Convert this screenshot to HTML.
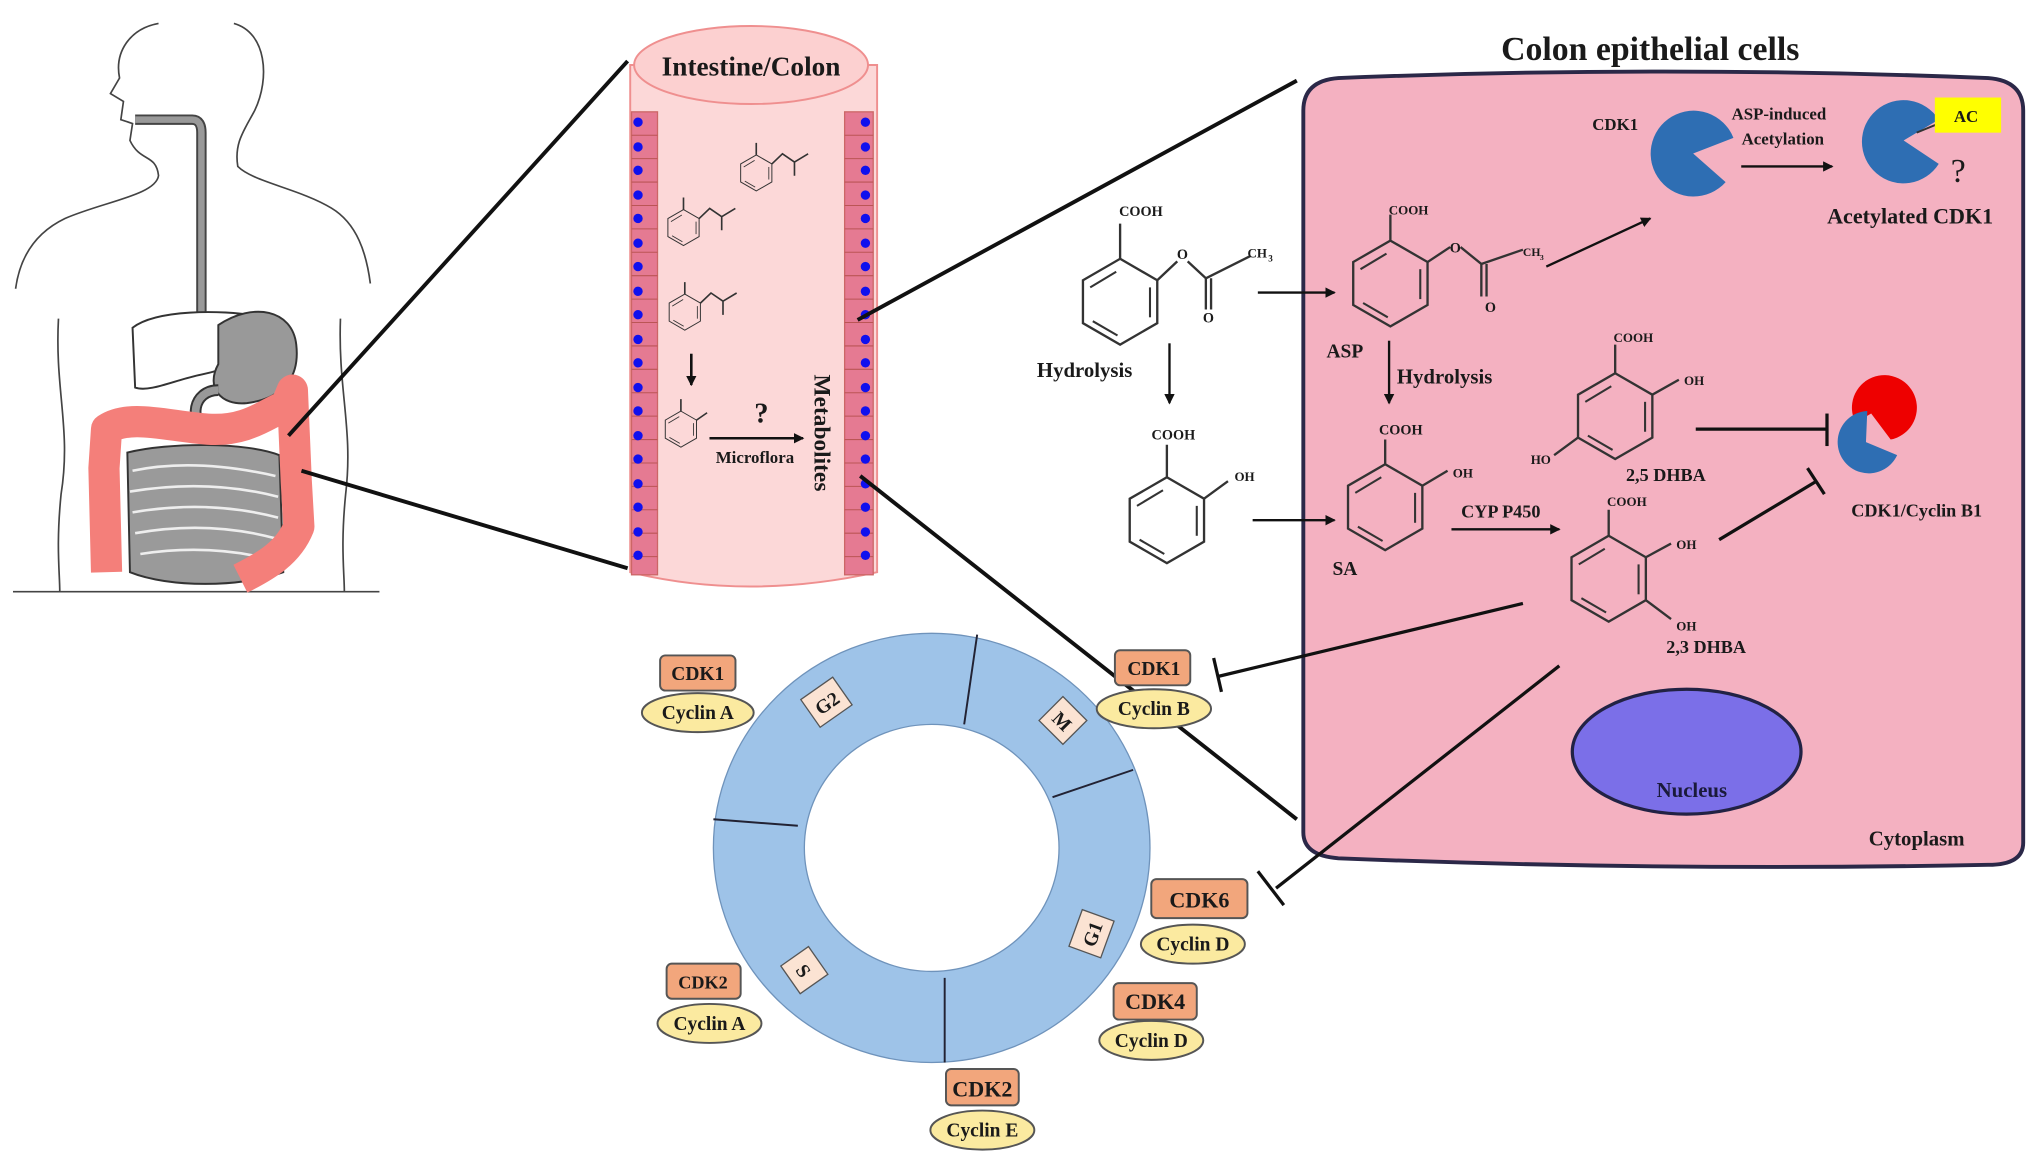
<!DOCTYPE html>
<html><head><meta charset="utf-8"><style>
html,body{margin:0;padding:0;background:#fff;}
svg{display:block;}
text{font-family:"Liberation Serif",serif;font-weight:bold;fill:#1a1a1a;}
</style></head><body>
<svg width="2031" height="1160" viewBox="0 0 1563 892" preserveAspectRatio="none" xmlns="http://www.w3.org/2000/svg">
<defs>
<g id="bz">
<polygon points="0,-33 28.6,-16.5 28.6,16.5 0,33 -28.6,16.5 -28.6,-16.5" fill="none" stroke="#333" stroke-width="1.8"/>
<line x1="-23" y1="-11" x2="-3" y2="-23" stroke="#333" stroke-width="1.6"/>
<line x1="23" y1="-11" x2="23" y2="12" stroke="#333" stroke-width="1.6"/>
<line x1="-21" y1="15" x2="-2" y2="26" stroke="#333" stroke-width="1.6"/>
</g>
<marker id="ah" markerWidth="8" markerHeight="8" refX="7" refY="4" orient="auto" markerUnits="userSpaceOnUse"><path d="M0,0 L8,4 L0,8 z" fill="#111"/></marker>
</defs>

<!-- Body -->
<g fill="none" stroke="#444" stroke-width="1.3">
<path d="M122,18 C100,22 88,40 92,60 L85,72 L95,78 L93,92 L102,95 L100,108 C108,125 120,118 122,135 C120,150 80,155 50,168 C25,180 15,200 12,222"/>
<path d="M180,18 C205,25 208,60 196,85 C188,100 180,110 183,128 C195,140 230,145 255,160 C275,172 282,195 285,218"/>
<path d="M45,245 C42,300 55,330 47,380 C43,420 46,440 46,455"/>
<path d="M262,245 C260,300 272,330 266,380 C262,420 265,440 265,455"/>
<line x1="10" y1="455" x2="292" y2="455"/>
</g>
<path d="M104,92 L148,92 C153,92 155,96 155,102 L155,240" fill="none" stroke="#444" stroke-width="8"/>
<path d="M104,92 L148,92 C153,92 155,96 155,102 L155,240" fill="none" stroke="#999" stroke-width="5"/>
<path d="M102,252 C120,238 170,238 198,243 L208,252 C200,272 180,283 155,288 C135,292 115,302 104,298 Z" fill="#fff" stroke="#333" stroke-width="1.5"/>
<path d="M168,250 C195,232 225,238 228,265 C232,300 205,308 190,310 C170,312 158,298 168,280 Z" fill="#999" stroke="#333" stroke-width="1.5"/>
<path d="M160,330 C145,325 148,300 168,300" fill="none" stroke="#333" stroke-width="9"/>
<path d="M160,330 C145,325 148,300 168,300" fill="none" stroke="#999" stroke-width="6"/>
<path d="M98,348 C130,340 190,340 215,350 L218,440 C185,452 130,452 100,440 Z" fill="#9a9a9a" stroke="#333" stroke-width="1.5"/>
<g fill="none" stroke="#eee" stroke-width="2">
<path d="M102,362 Q150,352 212,366 M100,378 Q160,368 214,382 M102,394 Q160,384 214,398 M104,410 Q160,400 212,414 M108,426 Q160,418 208,430"/>
</g>
<path d="M82,440 L80,360 L82,330 C100,318 130,328 160,330 C190,332 205,318 220,312 L225,300 L228,370 L230,405 C222,425 205,435 185,445" fill="none" stroke="#f47f7a" stroke-width="24" stroke-linejoin="round"/>

<!-- connectors from body -->
<g stroke="#111" stroke-width="3">
<line x1="222" y1="335" x2="483" y2="47"/>
<line x1="232" y1="362" x2="483" y2="437"/>
</g>

<!-- Tube -->
<path d="M485,50 L485,440 Q575,462 675,440 L675,50 Z" fill="#fcd8d8" stroke="#ef8f8f" stroke-width="1.5"/>
<ellipse cx="578" cy="50" rx="90" ry="30" fill="#fcd0d0" stroke="#ef8f8f" stroke-width="1.5"/>
<text x="578" y="58" font-size="21" text-anchor="middle">Intestine/Colon</text>
<rect x="486" y="86" width="20" height="356" fill="#e57a92" stroke="#c66" stroke-width="1"/>
<rect x="650" y="86" width="22" height="356" fill="#e57a92" stroke="#c66" stroke-width="1"/>
<g stroke="#b55" stroke-width="0.8">
<path d="M486,104h20M486,122h20M486,140h20M486,158h20M486,176h20M486,194h20M486,212h20M486,230h20M486,248h20M486,266h20M486,284h20M486,302h20M486,320h20M486,338h20M486,356h20M486,374h20M486,392h20M486,410h20M486,428h20"/>
<path d="M650,104h22M650,122h22M650,140h22M650,158h22M650,176h22M650,194h22M650,212h22M650,230h22M650,248h22M650,266h22M650,284h22M650,302h22M650,320h22M650,338h22M650,356h22M650,374h22M650,392h22M650,410h22M650,428h22"/>
</g>
<g fill="#1010ee">
<circle cx="491" cy="94" r="3.6"/><circle cx="491" cy="113" r="3.6"/><circle cx="491" cy="131" r="3.6"/><circle cx="491" cy="150" r="3.6"/><circle cx="491" cy="168" r="3.6"/><circle cx="491" cy="187" r="3.6"/><circle cx="491" cy="205" r="3.6"/><circle cx="491" cy="224" r="3.6"/><circle cx="491" cy="242" r="3.6"/><circle cx="491" cy="261" r="3.6"/><circle cx="491" cy="279" r="3.6"/><circle cx="491" cy="298" r="3.6"/><circle cx="491" cy="316" r="3.6"/><circle cx="491" cy="335" r="3.6"/><circle cx="491" cy="353" r="3.6"/><circle cx="491" cy="372" r="3.6"/><circle cx="491" cy="390" r="3.6"/><circle cx="491" cy="409" r="3.6"/><circle cx="491" cy="427" r="3.6"/>
<circle cx="666" cy="94" r="3.6"/><circle cx="666" cy="113" r="3.6"/><circle cx="666" cy="131" r="3.6"/><circle cx="666" cy="150" r="3.6"/><circle cx="666" cy="168" r="3.6"/><circle cx="666" cy="187" r="3.6"/><circle cx="666" cy="205" r="3.6"/><circle cx="666" cy="224" r="3.6"/><circle cx="666" cy="242" r="3.6"/><circle cx="666" cy="261" r="3.6"/><circle cx="666" cy="279" r="3.6"/><circle cx="666" cy="298" r="3.6"/><circle cx="666" cy="316" r="3.6"/><circle cx="666" cy="335" r="3.6"/><circle cx="666" cy="353" r="3.6"/><circle cx="666" cy="372" r="3.6"/><circle cx="666" cy="390" r="3.6"/><circle cx="666" cy="409" r="3.6"/><circle cx="666" cy="427" r="3.6"/>
</g>
<g transform="translate(582,133) scale(0.42)"><use href="#bz"/><path d="M0,-33 V-55 M28.6,-16.5 L48,-35 L70,-20 L70,5 M70,-20 L95,-35" fill="none" stroke="#333" stroke-width="3"/></g>
<g transform="translate(526,175) scale(0.42)"><use href="#bz"/><path d="M0,-33 V-55 M28.6,-16.5 L48,-35 L70,-20 L70,5 M70,-20 L95,-35" fill="none" stroke="#333" stroke-width="3"/></g>
<g transform="translate(527,240) scale(0.42)"><use href="#bz"/><path d="M0,-33 V-55 M28.6,-16.5 L48,-35 L70,-20 L70,5 M70,-20 L95,-35" fill="none" stroke="#333" stroke-width="3"/></g>
<line x1="532" y1="272" x2="532" y2="296" stroke="#111" stroke-width="2" marker-end="url(#ah)"/>
<g transform="translate(524,330) scale(0.42)"><use href="#bz"/><path d="M0,-33 V-55 M28.6,-16.5 L48,-30" fill="none" stroke="#333" stroke-width="3"/></g>
<text x="586" y="325" font-size="22" text-anchor="middle">?</text>
<line x1="546" y1="337" x2="618" y2="337" stroke="#111" stroke-width="2" marker-end="url(#ah)"/>
<text x="581" y="356" font-size="13" text-anchor="middle">Microflora</text>
<text transform="translate(627,288) rotate(90)" font-size="18">Metabolites</text>

<g stroke="#111" stroke-width="3">
<line x1="660" y1="246" x2="998" y2="62"/>
<line x1="662" y1="366" x2="998" y2="630"/>
</g>

<!-- Cell -->
<text x="1270" y="46" font-size="26" text-anchor="middle">Colon epithelial cells</text>
<path d="M1003,85 Q1003,62 1030,60 Q1280,50 1530,60 Q1557,62 1557,85 L1557,648 Q1557,665 1530,665 Q1280,670 1030,660 Q1003,658 1003,640 Z" fill="#f4b1c1" stroke="#2b2848" stroke-width="3"/>
<ellipse cx="1298" cy="578" rx="88" ry="48" fill="#7b6fe8" stroke="#222244" stroke-width="2.5"/>
<text x="1302" y="613" font-size="16" text-anchor="middle" style="fill:#1a1a3a">Nucleus</text>
<text x="1475" y="650" font-size="16" text-anchor="middle">Cytoplasm</text>

<g transform="translate(862,232)"><use href="#bz"/></g>
<path d="M862,199 V172 M890.6,215.5 L906,201 M914,201 L928,214 L928,238 M932,214 L932,238 M928,214 L962,197" fill="none" stroke="#333" stroke-width="1.8"/>
<text x="878" y="166" font-size="11" text-anchor="middle">COOH</text>
<text x="910" y="199" font-size="11" text-anchor="middle">O</text>
<text x="930" y="248" font-size="11" text-anchor="middle">O</text>
<text x="960" y="198" font-size="10">CH</text><text x="976" y="201" font-size="7">3</text>
<g transform="translate(1070,218)"><use href="#bz"/></g>
<path d="M1070,185 V165 M1098.6,201.5 L1116,190 M1124,190 L1140,203 L1140,228 M1144,203 L1144,228 M1140,203 L1172,192" fill="none" stroke="#333" stroke-width="1.8"/>
<text x="1084" y="165" font-size="10" text-anchor="middle">COOH</text>
<text x="1120" y="194" font-size="11" text-anchor="middle">O</text>
<text x="1147" y="240" font-size="11" text-anchor="middle">O</text>
<text x="1172" y="197" font-size="9">CH</text><text x="1185" y="200" font-size="6">3</text>
<text x="1035" y="275" font-size="15" text-anchor="middle">ASP</text>
<g transform="translate(898,400)"><use href="#bz"/></g>
<path d="M898,367 V342 M926.6,383.5 L945,370" fill="none" stroke="#333" stroke-width="1.8"/>
<text x="903" y="338" font-size="11" text-anchor="middle">COOH</text>
<text x="950" y="370" font-size="10">OH</text>
<g transform="translate(1066,390)"><use href="#bz"/></g>
<path d="M1066,357 V338 M1094.6,373.5 L1114,362" fill="none" stroke="#333" stroke-width="1.8"/>
<text x="1078" y="334" font-size="11" text-anchor="middle">COOH</text>
<text x="1118" y="367" font-size="10">OH</text>
<text x="1035" y="442" font-size="15" text-anchor="middle">SA</text>
<g transform="translate(1243,320)"><use href="#bz"/></g>
<path d="M1243,287 V265 M1271.6,303.5 L1292,292 M1214.4,336.5 L1196,350" fill="none" stroke="#333" stroke-width="1.8"/>
<text x="1257" y="263" font-size="10" text-anchor="middle">COOH</text>
<text x="1296" y="296" font-size="10">OH</text>
<text x="1178" y="357" font-size="10">HO</text>
<text x="1282" y="370" font-size="14" text-anchor="middle">2,5 DHBA</text>
<g transform="translate(1238,445)"><use href="#bz"/></g>
<path d="M1238,412 V392 M1266.6,428.5 L1286,418 M1266.6,461.5 L1286,476" fill="none" stroke="#333" stroke-width="1.8"/>
<text x="1252" y="389" font-size="10" text-anchor="middle">COOH</text>
<text x="1290" y="422" font-size="10">OH</text>
<text x="1290" y="485" font-size="10">OH</text>
<text x="1313" y="502" font-size="14" text-anchor="middle">2,3 DHBA</text>

<g stroke="#111" stroke-width="1.8" fill="none">
<line x1="968" y1="225" x2="1027" y2="225" marker-end="url(#ah)"/>
<line x1="1190" y1="205" x2="1270" y2="168" marker-end="url(#ah)"/>
<line x1="900" y1="264" x2="900" y2="310" marker-end="url(#ah)"/>
<line x1="1069" y1="262" x2="1069" y2="310" marker-end="url(#ah)"/>
<line x1="964" y1="400" x2="1027" y2="400" marker-end="url(#ah)"/>
<line x1="1117" y1="407" x2="1200" y2="407" marker-end="url(#ah)"/>
<line x1="1340" y1="128" x2="1410" y2="128" marker-end="url(#ah)"/>
</g>
<text x="798" y="290" font-size="16">Hydrolysis</text>
<text x="1075" y="295" font-size="16">Hydrolysis</text>
<text x="1155" y="398" font-size="14" text-anchor="middle">CYP  P450</text>
<text x="1369" y="92" font-size="13" text-anchor="middle">ASP-induced</text>
<text x="1372" y="111" font-size="13" text-anchor="middle">Acetylation</text>

<g stroke="#111" stroke-width="2.5" fill="none">
<line x1="1305" y1="330" x2="1405" y2="330"/><line x1="1406" y1="318" x2="1406" y2="343"/>
<line x1="1323" y1="415" x2="1398" y2="370"/><line x1="1391" y1="360" x2="1404" y2="380"/>
<line x1="1172" y1="464" x2="938" y2="520"/><line x1="934" y1="506" x2="940" y2="532"/>
<line x1="1200" y1="512" x2="982" y2="683"/><line x1="968" y1="670" x2="988" y2="696"/>
</g>

<text x="1243" y="100" font-size="13" text-anchor="middle">CDK1</text>
<path d="M1303,118 L1328,140 A33,33 0 1,1 1334,106 Z" fill="#2e6eb3"/>
<path d="M1465,108 L1492,126 A32,32 0 1,1 1492,92 Z" fill="#2e6eb3"/>
<line x1="1475" y1="102" x2="1492" y2="95" stroke="#333" stroke-width="1.5"/>
<rect x="1489" y="75" width="51" height="27" fill="#ffff00"/>
<text x="1513" y="94" font-size="13" text-anchor="middle">AC</text>
<text x="1507" y="140" font-size="26" text-anchor="middle" style="font-weight:normal">?</text>
<text x="1470" y="172" font-size="17" text-anchor="middle">Acetylated CDK1</text>
<path d="M1440,318 L1428,325 A25,25 0 1,1 1455,338 Z" fill="#ee0000"/>
<path d="M1436,340 L1460,350 A24,24 0 1,1 1437,316 Z" fill="#2e6eb3"/>
<text x="1475" y="397" font-size="14" text-anchor="middle">CDK1/Cyclin  B1</text>

<!-- Cell cycle -->
<ellipse cx="717" cy="652" rx="133" ry="130" fill="none" stroke="#9ec3e8" stroke-width="70"/>
<ellipse cx="717" cy="652" rx="168" ry="165" fill="none" stroke="#6f93bb" stroke-width="1"/>
<ellipse cx="717" cy="652" rx="98" ry="95" fill="none" stroke="#6f93bb" stroke-width="1"/>
<g stroke="#223" stroke-width="1.5">
<line x1="752" y1="488" x2="742" y2="557"/>
<line x1="549" y1="630" x2="614" y2="635"/>
<line x1="810" y1="613" x2="872" y2="592"/>
<line x1="727" y1="752" x2="727" y2="817"/>
</g>
<g font-size="15">
<g transform="translate(636,540) rotate(-35)"><rect x="-15" y="-13" width="30" height="26" fill="#fbe3d3" stroke="#555"/><text x="0" y="6" text-anchor="middle">G2</text></g>
<g transform="translate(818,554) rotate(45)"><rect x="-13" y="-13" width="26" height="26" fill="#fbe3d3" stroke="#555"/><text x="0" y="6" text-anchor="middle">M</text></g>
<g transform="translate(840,718) rotate(-70)"><rect x="-15" y="-13" width="30" height="26" fill="#fbe3d3" stroke="#555"/><text x="0" y="6" text-anchor="middle">G1</text></g>
<g transform="translate(619,746) rotate(55)"><rect x="-13" y="-13" width="26" height="26" fill="#fbe3d3" stroke="#555"/><text x="0" y="6" text-anchor="middle">S</text></g>
</g>
<g stroke="#555" stroke-width="1.5">
<rect x="508" y="504" width="58" height="27" rx="4" fill="#f2a67c"/>
<ellipse cx="537" cy="548" rx="43" ry="15" fill="#fbeaa0"/>
<rect x="858" y="500" width="58" height="27" rx="4" fill="#f2a67c"/>
<ellipse cx="888" cy="545" rx="44" ry="15" fill="#fbeaa0"/>
<rect x="886" y="676" width="74" height="30" rx="4" fill="#f2a67c"/>
<ellipse cx="918" cy="726" rx="40" ry="15" fill="#fbeaa0"/>
<rect x="857" y="756" width="64" height="28" rx="4" fill="#f2a67c"/>
<ellipse cx="886" cy="800" rx="40" ry="15" fill="#fbeaa0"/>
<rect x="728" y="822" width="56" height="28" rx="4" fill="#f2a67c"/>
<ellipse cx="756" cy="869" rx="40" ry="15" fill="#fbeaa0"/>
<rect x="513" y="741" width="57" height="27" rx="4" fill="#f2a67c"/>
<ellipse cx="546" cy="787" rx="40" ry="15" fill="#fbeaa0"/>
</g>
<g font-size="15" text-anchor="middle">
<text x="537" y="523">CDK1</text><text x="537" y="553">Cyclin A</text>
<text x="888" y="519">CDK1</text><text x="888" y="550">Cyclin B</text>
<text x="923" y="698" font-size="17">CDK6</text><text x="918" y="731">Cyclin D</text>
<text x="889" y="776" font-size="17">CDK4</text><text x="886" y="805">Cyclin D</text>
<text x="756" y="843" font-size="17">CDK2</text><text x="756" y="874">Cyclin E</text>
<text x="541" y="760" font-size="14">CDK2</text><text x="546" y="792">Cyclin A</text>
</g>
</svg>
</body></html>
